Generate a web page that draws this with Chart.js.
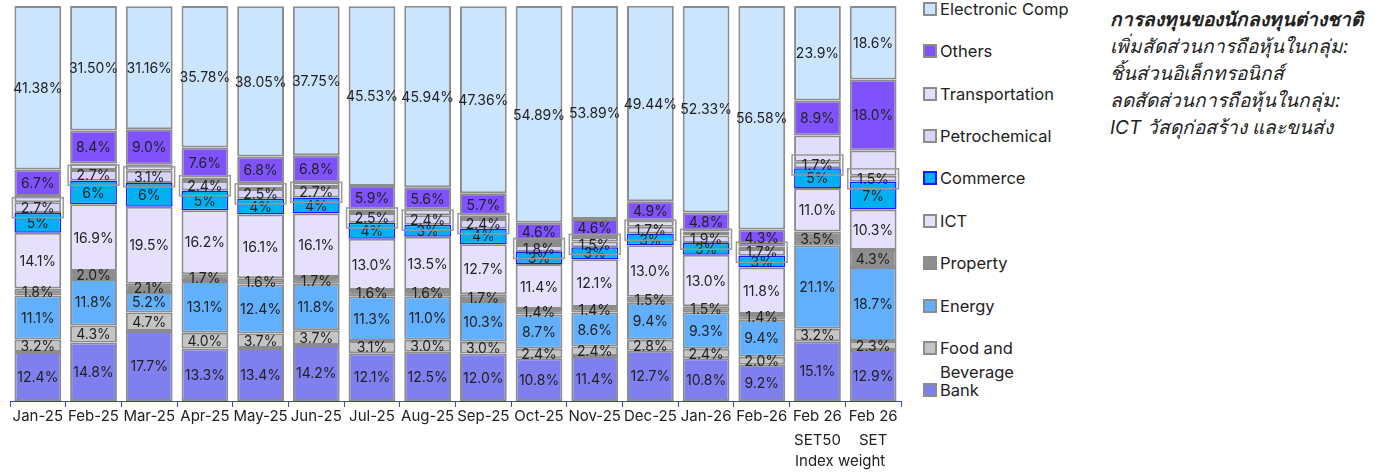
<!DOCTYPE html>
<html>
<head>
<meta charset="utf-8">
<script src="https://cdn.jsdelivr.net/npm/chart.js@4.4.1/dist/chart.umd.min.js"></script>
<style>
  body { margin: 0; background: #fff; font-family: Inter, "Noto Sans", sans-serif; }
  #wrap { position: relative; width: 1392px; height: 473px; }
  #chart { position: absolute; left: 0; top: 0; }
  #legend { position: absolute; left: 923px; top: 0; }
  .item { position: absolute; left: 0; white-space: nowrap; font-size: 16.5px; color: #222; line-height: 24px; }
  .box { display: inline-block; width: 10px; height: 10px; border: 2px solid #8c8c8c; vertical-align: -1px; margin-right: 3px; }
  #note { position: absolute; left: 1110px; top: 6px; font-size: 19px; line-height: 27px; color: #222; font-style: italic; }
  #note b { font-weight: 900; }
  #idx { position: absolute; left: 795px; top: 451px; font-size: 15px; color: #222; }
</style>
</head>
<body>
<div id="wrap">
  <canvas id="chart" width="905" height="473"></canvas>
  <div id="legend"></div>
  <div id="note">
    <b>การลงทุนของนักลงทุนต่างชาติ</b><br>
    เพิ่มสัดส่วนการถือหุ้นในกลุ่ม:<br>
    ชิ้นส่วนอิเล็กทรอนิกส์<br>
    ลดสัดส่วนการถือหุ้นในกลุ่ม:<br>
    ICT วัสดุก่อสร้าง และขนส่ง
  </div>
  <div id="idx">Index weight</div>
</div>
<script>
let categories = ["Jan-25", "Feb-25", "Mar-25", "Apr-25", "May-25", "Jun-25", "Jul-25", "Aug-25",
    "Sep-25", "Oct-25", "Nov-25", "Dec-25", "Jan-26", "Feb-26", ["Feb 26", "SET50"], ["Feb 26", "SET"]];

let bank       = [12.4, 14.8, 17.7, 13.3, 13.4, 14.2, 12.1, 12.5, 12.0, 10.8, 11.4, 12.7, 10.8, 9.2, 15.1, 12.9];
let foodBev    = [3.2, 4.3, 4.7, 4.0, 3.7, 3.7, 3.1, 3.0, 3.0, 2.4, 2.4, 2.8, 2.4, 2.0, 3.2, 2.3];
let energy     = [11.1, 11.8, 5.2, 13.1, 12.4, 11.8, 11.3, 11.0, 10.3, 8.7, 8.6, 9.4, 9.3, 9.4, 21.1, 18.7];
let property   = [1.8, 2.0, 2.1, 1.7, 1.6, 1.7, 1.6, 1.6, 1.7, 1.4, 1.4, 1.5, 1.5, 1.4, 3.5, 4.3];
let ict        = [14.1, 16.9, 19.5, 16.2, 16.1, 16.1, 13.0, 13.5, 12.7, 11.4, 12.1, 13.0, 13.0, 11.8, 11.0, 10.3];
let commerce   = [5, 6, 6, 5, 4, 4, 4, 3, 4, 3, 3, 3, 3, 3, 5, 7];
let petro      = [2.7, 2.7, 3.1, 2.4, 2.5, 2.7, 2.5, 2.4, 2.4, 1.8, 1.5, 1.7, 1.9, 1.7, 1.7, 1.5];
let transport  = [1.6, 1.6, 1.5, 0.9, 1.4, 1.2, 0.9, 1.5, 0.8, 1.0, 1.1, 1.6, 1.0, 0.6, 6.6, 6.4];
let others     = [6.7, 8.4, 9.0, 7.6, 6.8, 6.8, 5.9, 5.6, 5.7, 4.6, 4.6, 4.9, 4.8, 4.3, 8.9, 18.0];
let electronic = [41.38, 31.50, 31.16, 35.78, 38.05, 37.75, 45.53, 45.94, 47.36, 54.89, 53.89, 49.44, 52.33, 56.58, 23.9, 18.6];

let gray = "#8c8c8c";

// bottom to top
let series = [
    { label: "Bank", data: bank, color: "#7f7ff0", dec: 1 },
    { label: "Food and Beverage", data: foodBev, color: "#c4c4c4", dec: 1 },
    { label: "Energy", data: energy, color: "#62b0fc", dec: 1 },
    { label: "Property", data: property, color: "#8f8f8f", dec: 1 },
    { label: "ICT", data: ict, color: "#e6e0fc", dec: 1 },
    { label: "Commerce", data: commerce, color: "#00b0f0", dec: 0, border: "#1a1aff" },
    { label: "Petrochemical", data: petro, color: "#d6d4f8", dec: 1, boxed: true },
    { label: "Transportation", data: transport, color: "#e0defa", dec: 1, noLabel: true },
    { label: "Others", data: others, color: "#8052fe", dec: 1 },
    { label: "Electronic Comp", data: electronic, color: "#cce5ff", dec: 2 }
];

function fmt(s, i) {
    let v = s.data[i];
    let d = s.dec;
    if (s.label === "Electronic Comp" && i >= 14) d = 1;
    return v.toFixed(d) + "%";
}

// draws the value labels in the middle of each segment
let labelPlugin = {
    id: "segLabels",
    afterDatasetsDraw(chart) {
        let ctx = chart.ctx;
        ctx.save();
        ctx.font = "14px Inter, 'Noto Sans', sans-serif";
        ctx.textAlign = "center";
        ctx.textBaseline = "middle";
        series.forEach((s, di) => {
            if (s.noLabel) return;
            let meta = chart.getDatasetMeta(di);
            meta.data.forEach((bar, i) => {
                let y = (bar.y + bar.base) / 2;
                let txt = fmt(s, i);
                if (s.boxed) {
                    let w = Math.max(ctx.measureText(txt).width + 8, bar.width + 4);
                    ctx.strokeStyle = "#999";
                    ctx.lineWidth = 1.5;
                    ctx.strokeRect(bar.x - w / 2, y - 10, w, 20);
                }
                ctx.fillStyle = "#222";
                ctx.fillText(txt, bar.x, y + 1);
            });
        });
        ctx.restore();
    }
};

new Chart(document.getElementById("chart").getContext("2d"), {
    type: "bar",
    data: {
        labels: categories,
        datasets: series.map(s => ({
            label: s.label,
            data: s.data,
            backgroundColor: s.color,
            borderColor: s.border || gray,
            borderWidth: s.border ? 1.5 : 2,
            borderSkipped: false,
            barPercentage: 0.84,
            categoryPercentage: 1
        }))
    },
    options: {
        responsive: false,
        animation: false,
        layout: { padding: { left: 10, right: 4, top: 6 } },
        plugins: { legend: { display: false }, tooltip: { enabled: false } },
        scales: {
            x: {
                stacked: true,
                afterFit(scale) { scale.height = 72; },
                grid: { display: true, drawOnChartArea: false, drawTicks: true, tickLength: 6, color: "#3a3aff", offset: true },
                border: { display: true, color: "#3a3aff", width: 1 },
                ticks: { color: "#222", font: { family: "Inter, 'Noto Sans', sans-serif", size: 15, lineHeight: 1.6 }, padding: -3, maxRotation: 0, autoSkip: false }
            },
            y: { stacked: true, display: false, min: 0, max: 100 }
        }
    },
    plugins: [labelPlugin]
});

// legend, top to bottom
let legend = document.getElementById("legend");
let tops = [-3, 39, 82, 124, 166, 209, 251, 294, 336, 378];
series.slice().reverse().forEach((s, k) => {
    let div = document.createElement("div");
    div.className = "item";
    div.style.top = tops[k] + "px";
    let name = s.label === "Food and Beverage" ? "Food and<br><span style='margin-left:17px'>Beverage</span>" : s.label;
    div.innerHTML = "<span class='box' style='background:" + s.color + ";border-color:" + (s.border || gray) + "'></span>" + name;
    legend.appendChild(div);
});
</script>
</body>
</html>
